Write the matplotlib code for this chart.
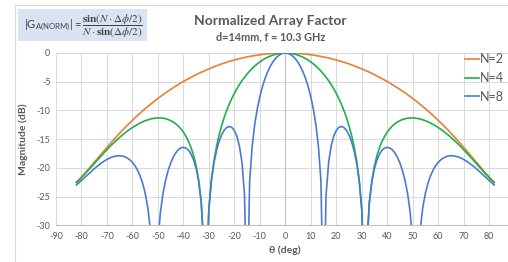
import matplotlib
matplotlib.use("Agg")
import matplotlib.pyplot as plt
from matplotlib.patches import Rectangle

plt.rcParams['font.family'] = ['Lato', 'DejaVu Sans']
plt.rcParams['axes.unicode_minus'] = False
plt.rcParams['mathtext.fontset'] = 'custom'
plt.rcParams['mathtext.rm'] = 'Lato'
plt.rcParams['mathtext.it'] = 'Lato:italic'

# angle in degrees, 1 deg step
theta = list(range(-82, 83))

# normalized array factor in dB
n2 = [-22.48, -22.05, -21.58, -21.10, -20.60, -20.08, -19.56, -19.04, -18.51, -17.98,
      -17.46, -16.94, -16.42, -15.91, -15.41, -14.91, -14.43, -13.95, -13.48, -13.03,
      -12.58, -12.14, -11.71, -11.29, -10.87, -10.47, -10.08, -9.70, -9.32, -8.96,
      -8.60, -8.25, -7.91, -7.58, -7.26, -6.94, -6.64, -6.34, -6.05, -5.77,
      -5.49, -5.22, -4.96, -4.71, -4.47, -4.23, -4.00, -3.77, -3.56, -3.35,
      -3.14, -2.95, -2.76, -2.57, -2.40, -2.23, -2.06, -1.90, -1.75, -1.61,
      -1.47, -1.34, -1.21, -1.10, -0.98, -0.88, -0.78, -0.68, -0.59, -0.51,
      -0.44, -0.37, -0.30, -0.24, -0.19, -0.15, -0.11, -0.08, -0.05, -0.03,
      -0.01, -0.00,
      0.00,
      -0.00, -0.01,
      -0.03, -0.05, -0.08, -0.11, -0.15, -0.19, -0.24, -0.30, -0.37, -0.44,
      -0.51, -0.59, -0.68, -0.78, -0.88, -0.98, -1.10, -1.21, -1.34, -1.47,
      -1.61, -1.75, -1.90, -2.06, -2.23, -2.40, -2.57, -2.76, -2.95, -3.14,
      -3.35, -3.56, -3.77, -4.00, -4.23, -4.47, -4.71, -4.96, -5.22, -5.49,
      -5.77, -6.05, -6.34, -6.64, -6.94, -7.26, -7.58, -7.91, -8.25, -8.60,
      -8.96, -9.32, -9.70, -10.08, -10.47, -10.87, -11.29, -11.71, -12.14, -12.58,
      -13.03, -13.48, -13.95, -14.43, -14.91, -15.41, -15.91, -16.42, -16.94, -17.46,
      -17.98, -18.51, -19.04, -19.56, -20.08, -20.60, -21.10, -21.58, -22.05, -22.48]

n4 = [-22.58, -22.16, -21.70, -21.23, -20.75, -20.26, -19.76, -19.26, -18.76, -18.26,
      -17.78, -17.30, -16.83, -16.37, -15.92, -15.49, -15.08, -14.68, -14.30, -13.94,
      -13.59, -13.27, -12.97, -12.69, -12.43, -12.19, -11.98, -11.79, -11.64, -11.51,
      -11.41, -11.34, -11.31, -11.31, -11.35, -11.44, -11.58, -11.77, -12.01, -12.33,
      -12.72, -13.20, -13.78, -14.50, -15.37, -16.46, -17.84, -19.63, -22.12, -25.93,
      -33.64, -39.38, -27.13, -22.05, -18.75, -16.29, -14.31, -12.66, -11.24, -10.00,
      -8.90, -7.91, -7.03, -6.22, -5.49, -4.82, -4.22, -3.66, -3.15, -2.69,
      -2.27, -1.90, -1.56, -1.25, -0.98, -0.75, -0.55, -0.38, -0.24, -0.14,
      -0.06, -0.02,
      0.00,
      -0.02, -0.06,
      -0.14, -0.24, -0.38, -0.55, -0.75, -0.98, -1.25, -1.56, -1.90, -2.27,
      -2.69, -3.15, -3.66, -4.22, -4.82, -5.49, -6.22, -7.03, -7.91, -8.90,
      -10.00, -11.24, -12.66, -14.31, -16.29, -18.75, -22.05, -27.13, -39.38, -33.64,
      -25.93, -22.12, -19.63, -17.84, -16.46, -15.37, -14.50, -13.78, -13.20, -12.72,
      -12.33, -12.01, -11.77, -11.58, -11.44, -11.35, -11.31, -11.31, -11.34, -11.41,
      -11.51, -11.64, -11.79, -11.98, -12.19, -12.43, -12.69, -12.97, -13.27, -13.59,
      -13.94, -14.30, -14.68, -15.08, -15.49, -15.92, -16.37, -16.83, -17.30, -17.78,
      -18.26, -18.76, -19.26, -19.76, -20.26, -20.75, -21.23, -21.70, -22.16, -22.58]

n8 = [-22.98, -22.60, -22.20, -21.79, -21.37, -20.96, -20.55, -20.16, -19.78, -19.43,
      -19.10, -18.80, -18.53, -18.31, -18.12, -17.99, -17.91, -17.89, -17.94, -18.07,
      -18.29, -18.61, -19.05, -19.63, -20.40, -21.39, -22.68, -24.41, -26.82, -30.51,
      -37.75, -46.50, -32.78, -27.65, -24.46, -22.20, -20.49, -19.17, -18.15, -17.39,
      -16.85, -16.53, -16.43, -16.55, -16.91, -17.57, -18.59, -20.10, -22.36, -26.03,
      -33.65, -39.39, -27.19, -22.25, -19.16, -17.00, -15.41, -14.26, -13.45, -12.97,
      -12.80, -12.95, -13.49, -14.50, -16.19, -19.06, -24.73, -46.49, -22.40, -16.24,
      -12.46, -9.73, -7.60, -5.90, -4.50, -3.35, -2.41, -1.64, -1.04, -0.58,
      -0.25, -0.06,
      0.00,
      -0.06, -0.25,
      -0.58, -1.04, -1.64, -2.41, -3.35, -4.50, -5.90, -7.60, -9.73, -12.46,
      -16.24, -22.40, -46.49, -24.73, -19.06, -16.19, -14.50, -13.49, -12.95, -12.80,
      -12.97, -13.45, -14.26, -15.41, -17.00, -19.16, -22.25, -27.19, -39.39, -33.65,
      -26.03, -22.36, -20.10, -18.59, -17.57, -16.91, -16.55, -16.43, -16.53, -16.85,
      -17.39, -18.15, -19.17, -20.49, -22.20, -24.46, -27.65, -32.78, -46.50, -37.75,
      -30.51, -26.82, -24.41, -22.68, -21.39, -20.40, -19.63, -19.05, -18.61, -18.29,
      -18.07, -17.94, -17.89, -17.91, -17.99, -18.12, -18.31, -18.53, -18.80, -19.10,
      -19.43, -19.78, -20.16, -20.55, -20.96, -21.37, -21.79, -22.20, -22.60, -22.98]

series = [('N=2', n2, '#ED7D31'), ('N=4', n4, '#1FB04A'), ('N=8', n8, '#4A7BD0')]

xticks = list(range(-90, 91, 10))
xticklabels = [str(t) if t < 90 else '' for t in xticks]

W, H = 508, 262
fig = plt.figure(figsize=(W / 100, H / 100), dpi=100)

# chart area border (cropped on right/bottom)
fig.add_artist(Rectangle((15 / W, -0.5), 1.2, 1.5 - 5 / H, transform=fig.transFigure,
                         fill=False, edgecolor='#d9d9d9', lw=0.8))

ax = fig.add_axes([56 / W, 1 - 225.3 / H, (514.6 - 56) / W, (225.3 - 53) / H])
ax.set_facecolor('none')
ax.set_xlim(-90, 90)
ax.set_ylim(-30, 0)
ax.set_xticks(xticks)
ax.set_xticklabels(xticklabels)
ax.set_yticks(range(-30, 1, 5))
ax.grid(color='#d9d9d9', lw=0.7, zorder=0)
ax.set_axisbelow(True)
for s in ['top', 'right', 'left']:
    ax.spines[s].set_visible(False)
ax.spines['bottom'].set_color('#bfbfbf')
ax.spines['bottom'].set_linewidth(0.8)
ax.axvline(0, color='#bfbfbf', lw=0.8, zorder=1)
ax.tick_params(length=0, labelsize=6.5, labelcolor='#595959')
ax.tick_params(axis='x', pad=5)
ax.tick_params(axis='y', pad=4)

for name, vals, col in series:
    ax.plot(theta, vals, color=col, lw=1.2, label=name, zorder=3)

ax.set_xlabel('θ (deg)', fontsize=7.5, fontweight='bold', color='#595959', labelpad=3)
ax.set_ylabel('Magnitude (dB)', fontsize=7.5, fontweight='bold', color='#595959', labelpad=6)

leg = ax.legend(loc='upper left', bbox_to_anchor=(465 / W, 1 - 53 / H),
                bbox_transform=fig.transFigure, frameon=False, fontsize=9,
                handlelength=1.1, handletextpad=0.1, labelspacing=0.55,
                borderaxespad=0, borderpad=0)
for t in leg.get_texts():
    t.set_color('#595959')

# titles
fig.text(270 / W, 1 - 21 / H, 'Normalized Array Factor', ha='center', va='center',
         fontsize=10, fontweight='bold', color='#595959')
fig.text(271 / W, 1 - 37 / H, 'd=14mm, f = 10.3 GHz', ha='center', va='center',
         fontsize=7.8, fontweight='bold', color='#595959')

# formula box
fig.add_artist(Rectangle((18 / W, 1 - 41 / H), 129 / W, 32 / H, transform=fig.transFigure,
                         facecolor='#dae3f3', edgecolor='none'))
fig.text(24 / W, 1 - 25.5 / H, r'$|\mathrm{G}_{\mathrm{A(NORM)}}|$ =', ha='left', va='center',
         fontsize=8, color='#404040', math_fontfamily='custom')
fig.text(82 / W, 1 - 26 / H, r'$\dfrac{\mathbf{sin}(N\cdot\Delta\phi/2)}{N\cdot\mathbf{sin}(\Delta\phi/2)}$',
         ha='left', va='center', fontsize=8, color='#404040', math_fontfamily='stix')

fig.savefig('out.png', dpi=100)
